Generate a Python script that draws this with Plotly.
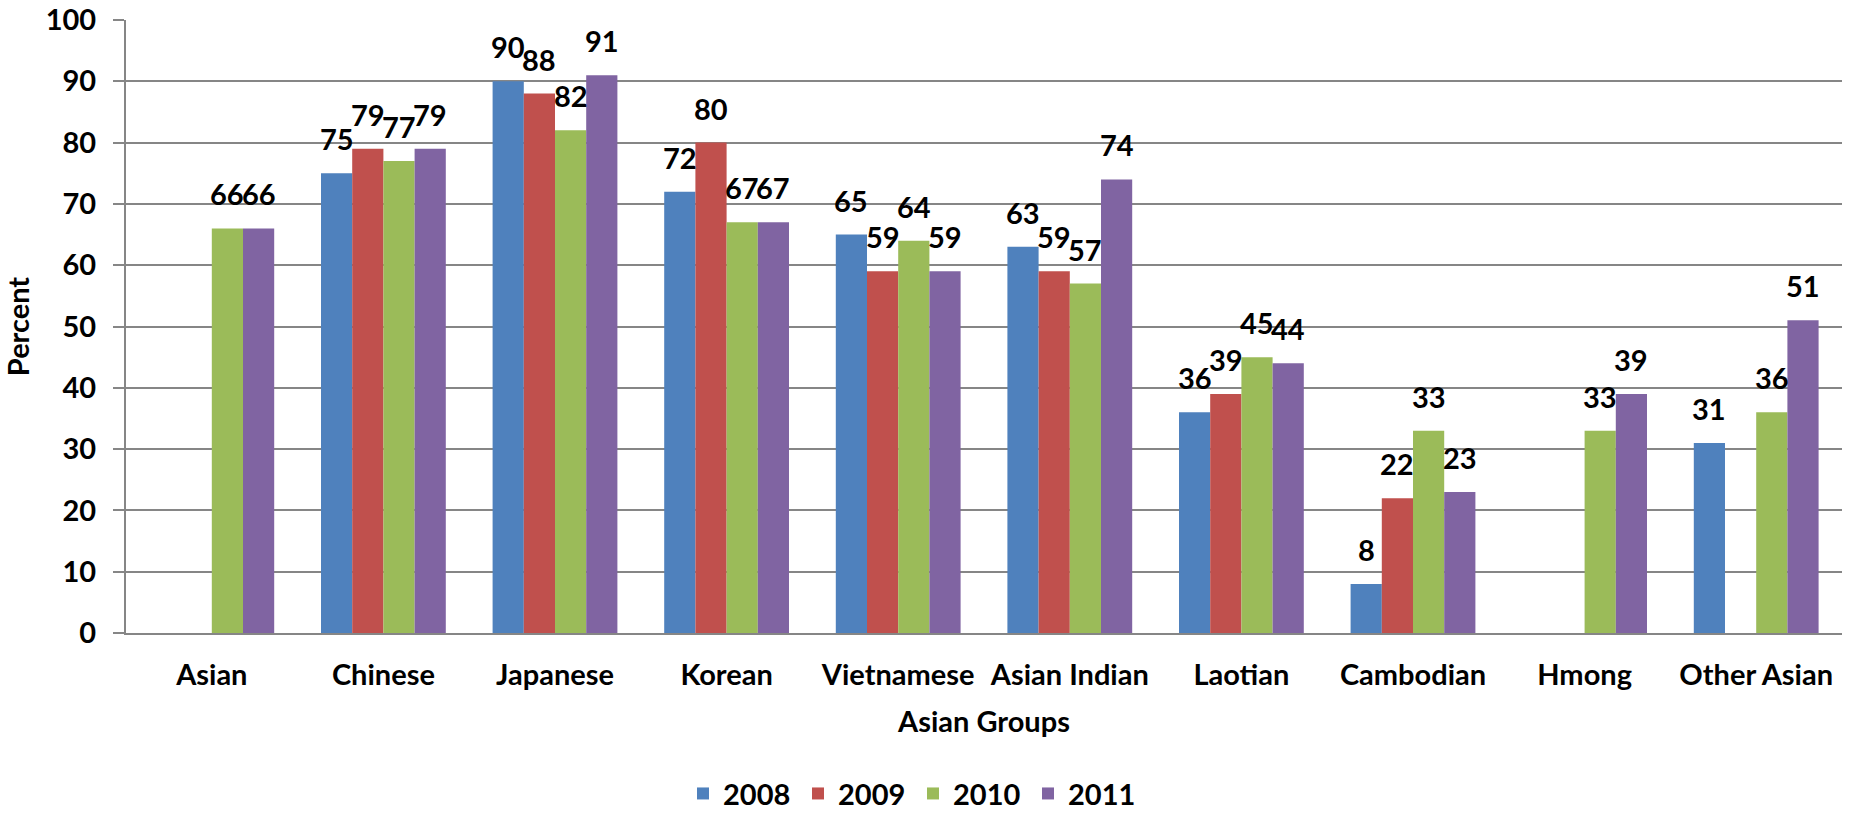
import plotly.graph_objects as go

categories = ["Asian", "Chinese", "Japanese", "Korean", "Vietnamese",
              "Asian Indian", "Laotian", "Cambodian", "Hmong", "Other Asian"]
years = ["2008", "2009", "2010", "2011"]
v2008 = [None, 75, 90, 72, 65, 63, 36, 8, None, 31]
v2009 = [None, 79, 88, 80, 59, 59, 39, 22, None, None]
v2010 = [66, 77, 82, 67, 64, 57, 45, 33, 33, 36]
v2011 = [66, 79, 91, 67, 59, 74, 44, 23, 39, 51]
series = [v2008, v2009, v2010, v2011]
colors = ["#4F81BD", "#C0504D", "#9BBB59", "#8064A2"]
y_ticks = list(range(0, 101, 10))

W, H = 1849, 813
ML, MR, MT, MB = 126, 7, 20, 180
BARGAP = 1.5 / 5.5
FONT = dict(family="Lato", size=29, color="black", weight="bold")

fig = go.Figure()
for name, vals, col in zip(years, series, colors):
    fig.add_trace(go.Bar(x=categories, y=vals, name=name,
                         marker=dict(color=col, line=dict(width=0))))

# data labels above bars
cat_w = (W - ML - MR) / len(categories)
bar_w = cat_w * (1 - BARGAP) / len(series)
for si, vals in enumerate(series):
    shift = (si - (len(series) - 1) / 2) * bar_w
    for c, v in zip(categories, vals):
        if v is None:
            continue
        fig.add_annotation(x=c, y=v, text=str(v), showarrow=False,
                           xref="x", yref="y", xanchor="center", yanchor="bottom",
                           xshift=shift, yshift=15, font=FONT)

fig.update_layout(
    width=W, height=H,
    margin=dict(l=ML, r=MR, t=MT, b=MB, autoexpand=False),
    paper_bgcolor="white", plot_bgcolor="white",
    barmode="group", bargap=BARGAP, bargroupgap=0,
    font=FONT,
    showlegend=True,
    legend=dict(orientation="h", x=0.3246, xanchor="left", y=-0.262, yanchor="middle",
                font=FONT, entrywidth=70, traceorder="normal"),
)
fig.update_xaxes(
    automargin=False,
    showline=True, linecolor="#868686", linewidth=2,
    ticks="", ticklabelstandoff=15, tickfont=FONT,
    title=dict(text="Asian Groups", font=FONT, standoff=22),
)
fig.update_yaxes(
    automargin=False, ticklabeloverflow="allow",
    range=[0, 100], tickvals=y_ticks,
    showline=True, linecolor="#868686", linewidth=2,
    showgrid=True, gridcolor="#868686", gridwidth=2,
    ticks="outside", ticklen=11, tickcolor="#868686", tickwidth=2,
    ticklabelstandoff=11, tickfont=FONT, zeroline=False,
    title=dict(text="Percent", font=FONT, standoff=12),
)
fig.write_html("out.html", config={"displayModeBar": False},
               post_script="document.body.style.margin='0';")
